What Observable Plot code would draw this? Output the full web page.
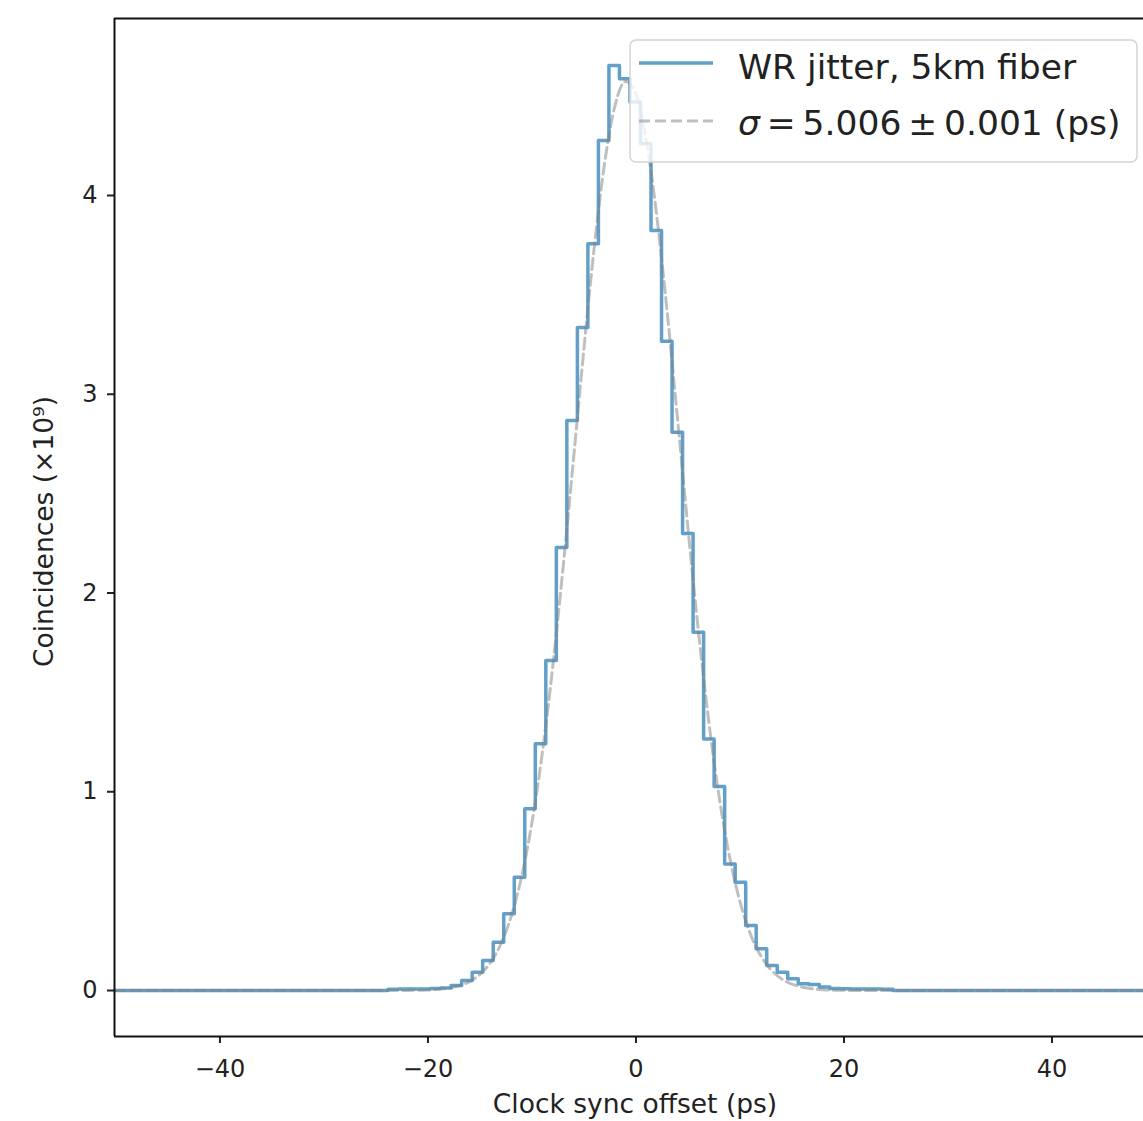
<!DOCTYPE html>
<html>
<head>
<meta charset="utf-8">
<script src="https://cdn.jsdelivr.net/npm/d3@7"></script>
<script src="https://cdn.jsdelivr.net/npm/@observablehq/plot@0.6"></script>
<style>
  html, body { margin: 0; padding: 0; background: #fff; }
  #wrap { position: relative; width: 1143px; height: 1121px; overflow: hidden; font-family: "DejaVu Sans", sans-serif; }
  #legend { position: absolute; left: 629px; top: 39px; }
</style>
</head>
<body>
<div id="wrap">
  <div id="chart"></div>
  <svg id="legend" width="510" height="124" xmlns="http://www.w3.org/2000/svg">
    <rect x="1" y="1" width="507" height="122" rx="6" ry="6" fill="#fff" fill-opacity="0.8" stroke="#d3d3d3" stroke-width="1.5"></rect>
    <line x1="10" x2="84" y1="24" y2="24" stroke="#1f77b4" stroke-opacity="0.7" stroke-width="3.5"></line>
    <line x1="10" x2="84" y1="82" y2="82" stroke="gray" stroke-opacity="0.5" stroke-width="3" stroke-dasharray="11,5"></line>
    <text id="lg1" x="109" y="40" font-family="DejaVu Sans" font-size="34.5" fill="#222"></text>
    <text id="lg2" x="109" y="96" font-family="DejaVu Sans" font-size="34.5" fill="#222"></text>
  </svg>
</div>
<script>
// ---- data ----
const seriesName = "WR jitter, 5km fiber";
const fitLabelSigma = "σ";
const fitLabelRest = "\u2009=\u20095.006\u2009±\u20090.001 (ps)";
const xLabel = "Clock sync offset (ps)";
const yLabel = "Coincidences (×10⁹)";
const xTicks = [-40, -20, 0, 20, 40];
const yTicks = [0, 1, 2, 3, 4];

// histogram bin left edges (ps) and counts (×10^9)
const binEdges = [-50.14,
  -23.841, -22.830, -21.818, -20.807, -19.795, -18.784, -17.772, -16.761, -15.749, -14.738,
  -13.726, -12.715, -11.703, -10.692, -9.680, -8.669, -7.657, -6.646, -5.634, -4.623,
  -3.611, -2.600, -1.588, -0.577, 0.435, 1.446, 2.458, 3.469, 4.481, 5.492,
  6.504, 7.515, 8.527, 9.538, 10.550, 11.561, 12.573, 13.584, 14.596, 15.607,
  16.619, 17.630, 18.642, 19.653, 20.665, 21.676, 22.688, 23.699, 24.711,
  51.01];
const binCounts = [0,
  0.006, 0.007, 0.007, 0.008, 0.010, 0.012, 0.025, 0.050, 0.092, 0.151,
  0.243, 0.386, 0.570, 0.914, 1.241, 1.660, 2.229, 2.868, 3.336, 3.757,
  4.277, 4.654, 4.587, 4.470, 4.260, 3.824, 3.267, 2.809, 2.299, 1.803,
  1.266, 1.026, 0.637, 0.545, 0.327, 0.210, 0.126, 0.092, 0.059, 0.034,
  0.030, 0.018, 0.010, 0.009, 0.008, 0.008, 0.007, 0.006, 0,
  0];

// Gaussian fit curve
const fitX = [-50.14, -30, -25, -22,
  -20, -19, -18, -17, -16, -15, -14, -13, -12, -11, -10, -9, -8, -7, -6, -5, -4, -3, -2, -1,
  0, 1, 2, 3, 4, 5, 6, 7, 8, 9, 10, 11, 12, 13, 14, 15, 16, 17, 18,
  20, 22, 25, 30, 51.01];
const fitY = [0, 0, 0.0002, 0.0006,
  0.0028, 0.0060, 0.0123, 0.0240, 0.0450, 0.0810, 0.140, 0.233, 0.372, 0.572, 0.845, 1.197, 1.631, 2.132, 2.678, 3.232, 3.745, 4.168, 4.456, 4.574,
  4.510, 4.276, 3.897, 3.414, 2.874, 2.326, 1.810, 1.354, 0.973, 0.673, 0.447, 0.285, 0.175, 0.103, 0.0585, 0.0320, 0.0167, 0.0084, 0.0041,
  0.0009, 0.0002, 0, 0, 0];

// ---- build tables ----
const hist = binEdges.map((x, i) => ({x, y: binCounts[i]}));
const fit = fitX.map((x, i) => ({x, y: fitY[i]}));

const xDomain = [-50.14, 48.8];
const yDomain = [-0.2314, 4.8906];

const chart = Plot.plot({
  width: 1143,
  height: 1121,
  marginLeft: 114,
  marginRight: 0,
  marginTop: 18,
  marginBottom: 85,
  style: {fontFamily: "DejaVu Sans", fontSize: "24px", color: "#222", background: "white"},
  x: {domain: xDomain, label: null},
  y: {domain: yDomain, label: null},
  marks: [
    Plot.axisX({ticks: xTicks, tickSize: 7, tickPadding: 16, strokeWidth: 2, fontSize: 24, label: null}),
    Plot.axisY({ticks: yTicks, tickFormat: "d", tickSize: 7, tickPadding: 10, strokeWidth: 2, fontSize: 24, label: null}),
    Plot.line(hist, {x: "x", y: "y", curve: "step-after", stroke: "#1f77b4", strokeOpacity: 0.7, strokeWidth: 3.5, clip: true}),
    Plot.line(fit, {x: "x", y: "y", curve: "monotone-x", stroke: "gray", strokeOpacity: 0.5, strokeWidth: 3, strokeDasharray: "11,5", clip: true}),
    Plot.ruleX([xDomain[0]], {stroke: "#111", strokeWidth: 2}),
    Plot.ruleY(yDomain, {stroke: "#111", strokeWidth: 2}),
    Plot.text([xLabel], {frameAnchor: "bottom", dy: 76, dx: 6, fontSize: 26.5, fill: "#222"}),
    Plot.text([yLabel], {frameAnchor: "left", textAnchor: "middle", rotate: -90, dx: -70, dy: 4, fontSize: 26.5, fill: "#222"})
  ]
});
document.getElementById("chart").appendChild(chart);

// legend text
document.getElementById("lg1").textContent = seriesName;
const lg2 = document.getElementById("lg2");
const ts1 = document.createElementNS("http://www.w3.org/2000/svg", "tspan");
ts1.setAttribute("font-style", "italic");
ts1.textContent = fitLabelSigma;
const ts2 = document.createElementNS("http://www.w3.org/2000/svg", "tspan");
ts2.textContent = fitLabelRest;
lg2.appendChild(ts1);
lg2.appendChild(ts2);
</script>
</body>
</html>
